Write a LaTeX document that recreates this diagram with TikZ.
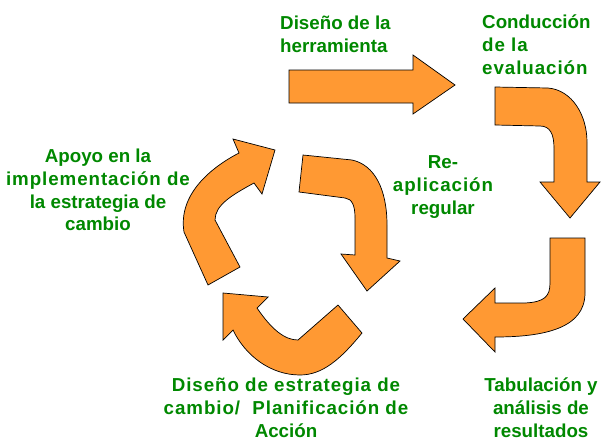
\documentclass[tikz,border=0pt]{standalone}
\usepackage{fontspec}
\setmainfont{Liberation Sans}
\newfontfamily\spaced[LetterSpace=5]{Liberation Sans}
\usetikzlibrary{positioning}
\definecolor{arroworange}{RGB}{255,153,51}
\definecolor{labelgreen}{RGB}{0,136,0}

\begin{document}
\begin{tikzpicture}[x=0.03cm,y=-0.03cm,
    blockarrow/.style={fill=arroworange,draw=black,line width=0.6pt,line join=miter},
    lbl/.style={text=labelgreen,font=\fontsize{16}{19.5}\selectfont\bfseries,inner sep=0pt}]
    \useasboundingbox (0,0) rectangle (602,441);
    % straight arrow at the top
    \draw[blockarrow] (289,70) -- (413,70) -- (413,55) -- (455,85) -- (413,114) -- (413,103) -- (289,103) -- cycle;
    % bent arrow going down
    \draw[blockarrow] (495,87) -- (548,88) .. controls (572,90) and (587,115) .. (587,142) -- (587,182)
        -- (600,182) -- (570,218) -- (540,182) -- (554,182) -- (554,148)
        .. controls (554,134) and (550,126) .. (540,126) -- (495,125) -- cycle;
    % bent arrow going left
    \draw[blockarrow] (550,238) -- (585,238) -- (585,293) .. controls (585,328) and (545,337) .. (495,337)
        -- (495,352) -- (463,319) -- (495,288) -- (495,303) -- (525,303)
        .. controls (545,302) and (550,296) .. (550,283) -- cycle;
    % small cycle
    \draw[blockarrow] (303,155) -- (352,160) .. controls (375,165) and (387,190) .. (387,225) -- (387,258)
        -- (400,261) -- (367,291) -- (341,254) -- (355,255) -- (355,218)
        .. controls (355,205) and (352,199) .. (345,198) -- (299,192) -- cycle;
    \draw[blockarrow] (208,285) -- (184,232) .. controls (178,195) and (210,168) .. (239,153)
        -- (233,139) -- (275,150) -- (262,194) -- (254,183)
        .. controls (232,195) and (215,205) .. (215,220) -- (240,267) -- cycle;
    \draw[blockarrow] (223,293) -- (268,297) -- (257,308) .. controls (272,330) and (285,340) .. (298,340)
        -- (338,305) -- (362,333) .. controls (340,360) and (322,375) .. (300,375)
        .. controls (270,375) and (245,355) .. (233,330) -- (223,340) -- cycle;
    % labels
    \node[lbl,align=left,anchor=west] (herr) at (280,34) {Diseño de la\\herramienta};
    \node[lbl,align=left,anchor=west] (cond) at (482,45) {Conducción\\{\spaced de la}\\{\spaced evaluación}};
    \node[lbl,align=center] (apoyo) at (98,190) {Apoyo en la\\{\spaced implementación de}\\la estrategia de\\cambio};
    \node[lbl,align=center] (reap) at (443,187) {Re-\\{\spaced aplicación}\\regular};
    \node[lbl,align=center] (plan) at (286,408) {{\spaced Diseño de estrategia de}\\{\spaced cambio/\ \ Planificación de}\\Acción};
    \node[lbl,align=center] (tab) at (541,408) {Tabulación y\\análisis de\\resultados};
\end{tikzpicture}
\end{document}
